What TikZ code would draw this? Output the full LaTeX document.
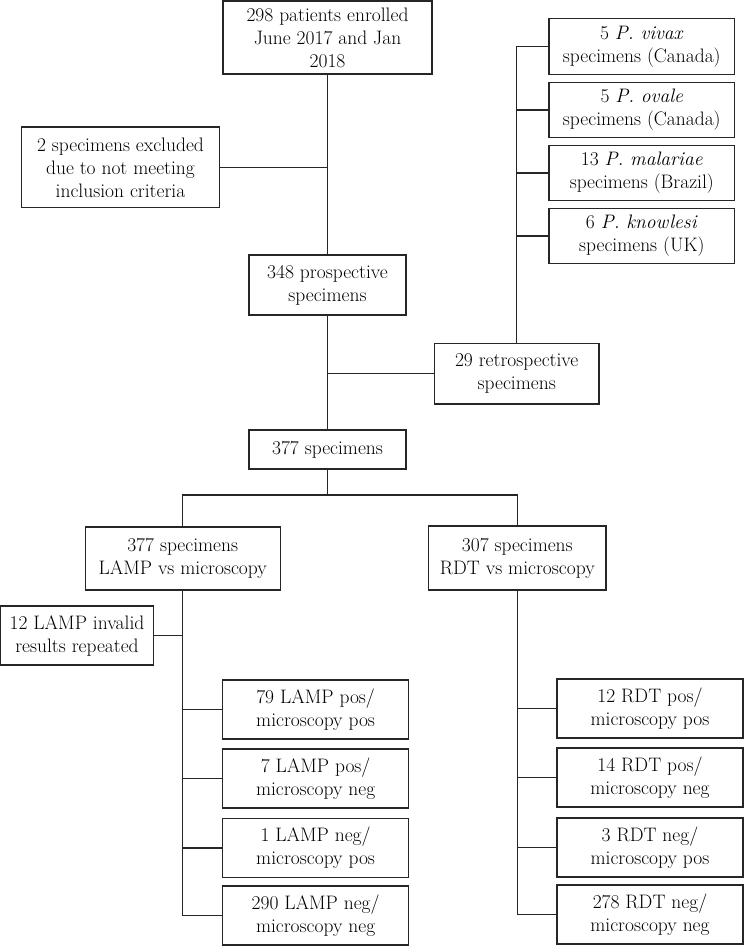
\documentclass[tikz,border=0pt]{standalone}
\begin{document}
\begin{tikzpicture}[x=1pt,y=-1pt,
  box/.style={draw=black!85, line width=1.2pt, align=center, inner sep=0pt,
    font=\fontsize{19.5}{23}\selectfont},
  conn/.style={draw=black!85, line width=1.2pt}]
\useasboundingbox[fill=white] (0,0) rectangle (744,946);
% main column
\node[box, minimum width=209pt, minimum height=73pt] (top) at (327.5,37.5) {298 patients enrolled\\June 2017 and Jan\\2018};
\node[box, minimum width=198.4pt, minimum height=80.7pt] (excl) at (120.5,167.4) {2 specimens excluded\\due to not meeting\\inclusion criteria};
\node[box, minimum width=157pt, minimum height=60pt] (prosp) at (327.5,285) {348 prospective\\specimens};
\node[box, minimum width=157pt, minimum height=39pt] (all) at (327.5,449.5) {377 specimens};
% retrospective
\node[box, minimum width=185.7pt, minimum height=55.3pt] (viv) at (641.8,46.5) {5 \textit{P. vivax}\\specimens (Canada)};
\node[box, minimum width=185.7pt, minimum height=55.3pt] (ova) at (641.8,110) {5 \textit{P. ovale}\\specimens (Canada)};
\node[box, minimum width=185.7pt, minimum height=55.3pt] (mal) at (641.8,173) {13 \textit{P. malariae}\\specimens (Brazil)};
\node[box, minimum width=185.7pt, minimum height=55.3pt] (kno) at (641.8,236) {6 \textit{P. knowlesi}\\specimens (UK)};
\node[box, minimum width=164.7pt, minimum height=60.3pt] (retro) at (516.7,373.8) {29 retrospective\\specimens};
% branches
\node[box, minimum width=195pt, minimum height=63pt] (lamp) at (182.7,558.5) {377 specimens\\LAMP vs microscopy};
\node[box, minimum width=177.4pt, minimum height=64pt] (rdt) at (517.3,558) {307 specimens\\RDT vs microscopy};
\node[box, minimum width=152.6pt, minimum height=59pt] (inv) at (77,635.5) {12 LAMP invalid\\results repeated};
% LAMP results
\node[box, minimum width=186pt, minimum height=59pt] (la) at (315.6,709.5) {79 LAMP pos/\\microscopy pos};
\node[box, minimum width=186pt, minimum height=59pt] (lb) at (315.6,778.5) {7 LAMP pos/\\microscopy neg};
\node[box, minimum width=186pt, minimum height=59pt] (lc) at (315.6,848) {1 LAMP neg/\\microscopy pos};
\node[box, minimum width=186pt, minimum height=59pt] (ld) at (315.6,915.5) {290 LAMP neg/\\microscopy neg};
% RDT results
\node[box, minimum width=186pt, minimum height=59pt] (ra) at (650,708.5) {12 RDT pos/\\microscopy pos};
\node[box, minimum width=186pt, minimum height=59pt] (rb) at (650,777.5) {14 RDT pos/\\microscopy neg};
\node[box, minimum width=186pt, minimum height=59pt] (rc) at (650,847.5) {3 RDT neg/\\microscopy pos};
\node[box, minimum width=186pt, minimum height=59pt] (rd) at (650,914.5) {278 RDT neg/\\microscopy neg};
\coordinate (split) at (327.5,495);
% connectors
\draw[conn] (top.south) -- (prosp.north);
\draw[conn] (excl.east) -- (excl.east -| top.south);
\draw[conn] (prosp.south) -- (all.north);
\draw[conn] (retro.west) -- (retro.west -| prosp.south);
\draw[conn] (viv.west) -| (retro.north);
\draw[conn] (ova.west) -- (ova.west -| retro.north);
\draw[conn] (mal.west) -- (mal.west -| retro.north);
\draw[conn] (kno.west) -- (kno.west -| retro.north);
\draw[conn] (all.south) -- (split);
\draw[conn] (lamp.north) -- (lamp.north |- split) -- (rdt.north |- split) -- (rdt.north);
\draw[conn] (lamp.south) |- (ld.west);
\draw[conn] (inv.east) -- (inv.east -| lamp.south);
\draw[conn] (la.west) -- (la.west -| lamp.south);
\draw[conn] (lb.west) -- (lb.west -| lamp.south);
\draw[conn] (lc.west) -- (lc.west -| lamp.south);
\draw[conn] (rdt.south) |- (rd.west);
\draw[conn] (ra.west) -- (ra.west -| rdt.south);
\draw[conn] (rb.west) -- (rb.west -| rdt.south);
\draw[conn] (rc.west) -- (rc.west -| rdt.south);
\end{tikzpicture}
\end{document}
